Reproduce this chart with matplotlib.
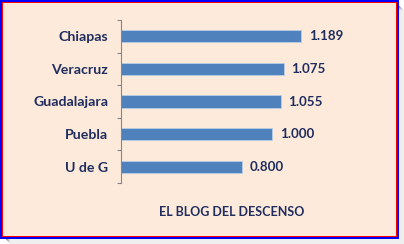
import matplotlib.pyplot as plt
from matplotlib.patches import Rectangle

equipos = ["Chiapas", "Veracruz", "Guadalajara", "Puebla", "U de G"]
cocientes = [1.189, 1.075, 1.055, 1.000, 0.800]
etiquetas = ["1.189", "1.075", "1.055", "1.000", "0.800"]
titulo = "EL BLOG DEL DESCENSO"

W, H = 404, 244
texto = '#1F2D5F'
plt.rcParams['font.family'] = ['Lato', 'DejaVu Sans']

fig = plt.figure(figsize=(W / 100, H / 100), dpi=100)
fig.patch.set_facecolor('white')


def px_rect(x0, y0, x1, y1, **kw):
    # rectangle given in pixel coords, origin top-left
    fig.patches.append(Rectangle((x0 / W, 1 - y1 / H), (x1 - x0) / W, (y1 - y0) / H,
                                 transform=fig.transFigure, figure=fig, **kw))


# drop shadow
for i, c in enumerate(['#6d6d6d', '#8e8e8e', '#aaaaaa', '#c4c4c4', '#dcdcdc', '#efefef']):
    px_rect(5 + i, 5 + i, 399 + i, 239 + i, facecolor=c, edgecolor='none', zorder=-10 + i * 0.01)
px_rect(0, 0, 399, 239, facecolor='#0000ff', edgecolor='none', zorder=-5)
px_rect(2, 2, 397, 237, facecolor='#ff0000', edgecolor='none', zorder=-4)
px_rect(3, 3, 396, 236, facecolor='#FDEADA', edgecolor='none', zorder=-3)

ax = fig.add_axes([120.6 / W, 1 - 183 / H, 212.4 / W, 163 / H])
ax.set_facecolor('none')

y = range(len(equipos))
ax.barh(y, cocientes, height=0.38, color='#4F81BD', edgecolor='#B9CDE5', linewidth=0.6)
for yi, v, lab in zip(y, cocientes, etiquetas):
    ax.annotate(lab, (v, yi), xytext=(5.5, 0), textcoords='offset points',
                va='center', ha='left', fontsize=9.6, fontweight='bold', color=texto)

ax.set_xlim(0, 1.4)
ax.set_ylim(len(equipos) - 0.5, -0.5)

for s in ['top', 'right', 'bottom']:
    ax.spines[s].set_visible(False)
ax.spines['left'].set_color('#868686')
ax.spines['left'].set_linewidth(0.8)
ax.set_xticks([])
ax.set_yticks(list(y))
ax.set_yticklabels(equipos, fontsize=10.2, fontweight='bold', color=texto)
ax.tick_params(axis='y', which='major', length=0, pad=9)
ax.set_yticks([i - 0.5 for i in range(len(equipos) + 1)], minor=True)
ax.tick_params(axis='y', which='minor', length=3, width=0.8, color='#868686')

fig.text(232 / W, 1 - 212 / H, titulo, ha='center', va='center',
         fontsize=9, fontweight='bold', color=texto)

fig.savefig('out.png', dpi=100)
